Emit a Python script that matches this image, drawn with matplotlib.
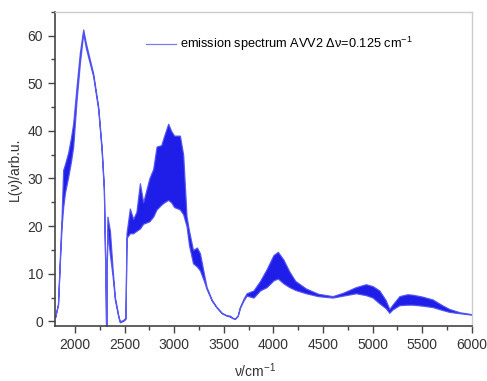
import matplotlib
matplotlib.use("Agg")
import matplotlib.pyplot as plt
from matplotlib.lines import Line2D
from matplotlib.ticker import MultipleLocator

plt.rcParams['font.family'] = ['Liberation Sans', 'DejaVu Sans']
plt.rcParams['mathtext.fontset'] = 'custom'
plt.rcParams['mathtext.rm'] = 'Liberation Sans'
plt.rcParams['mathtext.it'] = 'Liberation Sans'

# Emission spectrum AVV2: wavenumber (cm^-1) with upper / lower envelope of the fringes
wavenumber = [1800, 1830, 1850, 1866, 1882, 1900, 1933, 1960, 1983, 2017, 2050, 2084,
              2110, 2134, 2184, 2235, 2269, 2292, 2310, 2314, 2318, 2322, 2328, 2353,
              2380, 2403, 2437, 2453, 2487, 2510, 2520, 2554, 2587, 2620, 2655, 2688,
              2750, 2789, 2823, 2870, 2900, 2940, 2970, 3000, 3058, 3091, 3125, 3150,
              3190, 3230, 3260, 3300, 3327, 3380, 3428, 3480, 3528, 3562, 3585, 3612,
              3640, 3662, 3700, 3730, 3765, 3800, 3866, 3933, 4000, 4045, 4100, 4160,
              4220, 4328, 4450, 4597, 4700, 4832, 4933, 5000, 5067, 5130, 5168, 5200,
              5269, 5350, 5403, 5500, 5604, 5700, 5772, 5880, 6000]
upper = [0.8, 3.7, 14.0, 22.0, 31.8, 33.0, 35.5, 38.5, 41.6, 49.3, 56.4, 61.3,
         58.5, 56.4, 52.1, 45.1, 36.7, 28.3, 7.2, -1.0, -1.0, 13.0, 22.0, 19.0,
         11.0, 5.1, 1.3, 0.0, 0.3, 0.8, 18.5, 23.7, 21.5, 23.0, 29.0, 25.0,
         30.0, 32.0, 36.7, 37.0, 39.0, 41.5, 40.0, 39.0, 39.0, 35.0, 22.0, 19.0,
         15.0, 15.5, 14.3, 10.0, 7.2, 4.5, 3.0, 1.8, 1.3, 1.2, 0.8, 0.6,
         1.2, 3.0, 4.8, 5.9, 6.2, 6.5, 8.5, 11.0, 13.9, 14.6, 13.0, 10.5,
         8.5, 6.9, 5.8, 5.3, 6.0, 7.2, 7.8, 7.4, 6.5, 4.5, 2.6, 3.5,
         5.3, 5.7, 5.6, 5.2, 4.6, 3.4, 2.6, 1.9, 1.5]
lower = [0.8, 3.5, 13.0, 19.9, 24.0, 27.0, 30.4, 33.5, 36.7, 46.5, 54.2, 60.5,
         57.5, 55.5, 51.5, 44.5, 36.0, 27.5, 6.5, -1.0, -1.0, 12.0, 19.0, 14.0,
         9.5, 4.5, 1.0, -0.2, 0.1, 0.5, 17.5, 18.5, 18.5, 19.0, 19.5, 20.5,
         21.0, 22.0, 23.5, 24.5, 25.0, 25.5, 25.0, 24.0, 23.5, 22.5, 20.0, 16.0,
         12.2, 11.5, 10.7, 8.5, 6.8, 4.3, 2.9, 1.7, 1.2, 1.0, 0.7, 0.5,
         1.1, 2.8, 4.4, 5.4, 5.2, 5.0, 6.5, 7.2, 8.6, 9.0, 8.0, 7.2,
         6.6, 5.9, 5.3, 5.0, 5.4, 5.9, 5.5, 5.0, 3.8, 2.8, 1.8, 2.5,
         3.4, 3.5, 3.5, 3.3, 3.0, 2.4, 2.0, 1.7, 1.4]

fig = plt.figure(figsize=(4.87, 3.81), dpi=100)
ax = fig.add_axes([0.113, 0.144, 0.856, 0.825])

ax.fill_between(wavenumber, lower, upper, color='#0a0ae6', alpha=0.92,
                linewidth=0.9, edgecolor='#5050f0')

ax.set_xlim(1800, 6000)
ax.set_ylim(-1, 65)
ax.xaxis.set_major_locator(MultipleLocator(500))
ax.xaxis.set_minor_locator(MultipleLocator(250))
ax.yaxis.set_major_locator(MultipleLocator(10))
ax.yaxis.set_minor_locator(MultipleLocator(5))
ax.tick_params(which='both', direction='out', color='#444444', labelsize=10,
               labelcolor='#333333')
ax.tick_params(which='major', length=5, width=1)
ax.tick_params(which='minor', length=3, width=1)

for side in ('left', 'bottom'):
    ax.spines[side].set_color('#444444')
    ax.spines[side].set_linewidth(1.2)
for side in ('top', 'right'):
    ax.spines[side].set_color('#cccccc')
    ax.spines[side].set_linewidth(1.0)

ax.set_xlabel('ν/cm$^{-1}$', fontsize=10, color='#333333')
ax.xaxis.set_label_coords(0.48, -0.112)
ax.set_ylabel('L(ν)/arb.u.', fontsize=10, color='#333333', labelpad=4)

handle = Line2D([], [], color='#7c7cee', linewidth=0.9)
ax.legend([handle], ['emission spectrum AVV2 Δν=0.125 cm$^{-1}$'],
          loc='upper left', bbox_to_anchor=(0.19, 0.962), frameon=False,
          fontsize=9.2, handlelength=2.4, handletextpad=0.3)

fig.savefig('out.png', dpi=100)
